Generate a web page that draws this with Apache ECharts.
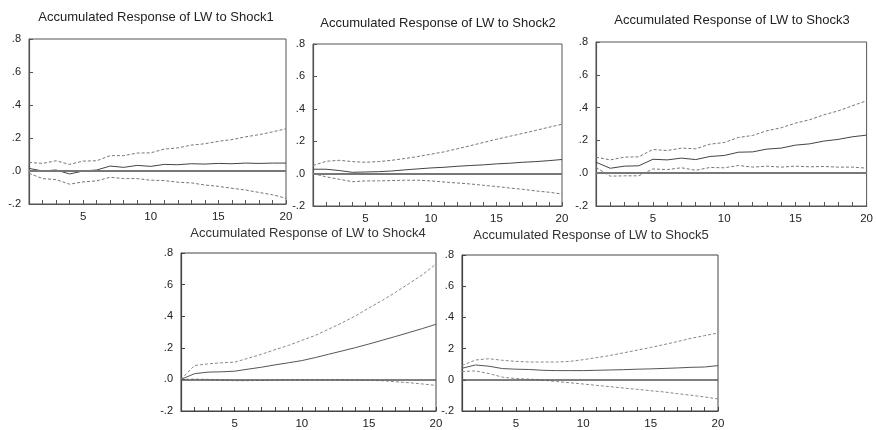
<!DOCTYPE html>
<html><head><meta charset="utf-8">
<script src="https://cdn.jsdelivr.net/npm/echarts@6/dist/echarts.min.js"></script>
<style>html,body{margin:0;padding:0;background:#fff}#c{width:876px;height:430px}</style>
</head><body><div id="c"></div>
<script>
const periods = ['1','2','3','4','5','6','7','8','9','10','11','12','13','14','15','16','17','18','19','20'];
const yTickValues = [-0.2, 0, 0.2, 0.4, 0.6, 0.8];
const yTickLabels = ['-.2', '.0', '.2', '.4', '.6', '.8'];
const yTickLabels5 = ['-.2', '0', '2', '.4', '.6', '.8'];
const titles = [
  'Accumulated Response of LW to Shock1',
  'Accumulated Response of LW to Shock2',
  'Accumulated Response of LW to Shock3',
  'Accumulated Response of LW to Shock4',
  'Accumulated Response of LW to Shock5'
];

const s1Resp  = [0.016, 0.0, 0.006, -0.018, 0.0, 0.006, 0.03, 0.022, 0.034, 0.028, 0.04, 0.038, 0.044, 0.042, 0.046, 0.044, 0.048, 0.046, 0.048, 0.048];
const s1Upper = [0.052, 0.046, 0.062, 0.04, 0.06, 0.062, 0.093, 0.093, 0.109, 0.11, 0.133, 0.14, 0.157, 0.165, 0.18, 0.19, 0.207, 0.22, 0.237, 0.256];
const s1Lower = [-0.014, -0.046, -0.052, -0.08, -0.066, -0.06, -0.038, -0.046, -0.046, -0.056, -0.058, -0.068, -0.072, -0.085, -0.093, -0.105, -0.115, -0.13, -0.144, -0.165];

const s2Resp  = [0.027, 0.027, 0.019, 0.008, 0.01, 0.012, 0.016, 0.023, 0.029, 0.035, 0.039, 0.045, 0.05, 0.054, 0.06, 0.064, 0.07, 0.074, 0.08, 0.087];
const s2Upper = [0.05, 0.076, 0.082, 0.074, 0.07, 0.074, 0.082, 0.093, 0.105, 0.12, 0.134, 0.153, 0.172, 0.192, 0.212, 0.23, 0.248, 0.267, 0.286, 0.305];
const s2Lower = [0.0, -0.02, -0.035, -0.05, -0.045, -0.045, -0.043, -0.041, -0.041, -0.045, -0.052, -0.058, -0.064, -0.072, -0.08, -0.089, -0.097, -0.107, -0.115, -0.126];

const s3Resp  = [0.067, 0.03, 0.043, 0.045, 0.085, 0.081, 0.092, 0.083, 0.102, 0.108, 0.128, 0.13, 0.147, 0.153, 0.171, 0.179, 0.196, 0.206, 0.222, 0.232];
const s3Upper = [0.098, 0.081, 0.098, 0.1, 0.145, 0.138, 0.153, 0.149, 0.177, 0.187, 0.218, 0.23, 0.259, 0.277, 0.305, 0.326, 0.356, 0.38, 0.411, 0.442];
const s3Lower = [0.035, -0.018, -0.016, -0.016, 0.026, 0.022, 0.033, 0.018, 0.035, 0.033, 0.047, 0.037, 0.043, 0.037, 0.043, 0.039, 0.041, 0.037, 0.037, 0.031];

const s4Resp  = [0.0, 0.036, 0.046, 0.048, 0.052, 0.065, 0.077, 0.092, 0.105, 0.119, 0.138, 0.159, 0.18, 0.201, 0.224, 0.248, 0.272, 0.297, 0.322, 0.349];
const s4Upper = [0.0, 0.088, 0.098, 0.105, 0.109, 0.134, 0.159, 0.188, 0.215, 0.247, 0.278, 0.318, 0.358, 0.402, 0.452, 0.5, 0.552, 0.607, 0.663, 0.73];
const s4Lower = [0.0, 0.002, 0.0, -0.004, -0.008, -0.008, -0.006, -0.004, -0.002, -0.002, -0.002, -0.002, -0.002, -0.004, -0.006, -0.008, -0.015, -0.021, -0.029, -0.038];

const s5Resp  = [0.074, 0.095, 0.087, 0.072, 0.068, 0.066, 0.061, 0.059, 0.059, 0.059, 0.061, 0.063, 0.065, 0.068, 0.07, 0.073, 0.076, 0.08, 0.082, 0.091];
const s5Upper = [0.091, 0.127, 0.135, 0.125, 0.118, 0.114, 0.114, 0.114, 0.118, 0.129, 0.142, 0.156, 0.173, 0.19, 0.207, 0.226, 0.245, 0.266, 0.283, 0.3];
const s5Lower = [0.053, 0.057, 0.04, 0.017, 0.008, 0.004, -0.002, -0.011, -0.019, -0.027, -0.036, -0.044, -0.053, -0.061, -0.07, -0.078, -0.089, -0.099, -0.11, -0.123];

const panels = [
  {resp: s1Resp, upper: s1Upper, lower: s1Lower, labels: yTickLabels},
  {resp: s2Resp, upper: s2Upper, lower: s2Lower, labels: yTickLabels},
  {resp: s3Resp, upper: s3Upper, lower: s3Lower, labels: yTickLabels},
  {resp: s4Resp, upper: s4Upper, lower: s4Lower, labels: yTickLabels},
  {resp: s5Resp, upper: s5Upper, lower: s5Lower, labels: yTickLabels5}
];

// layout
const gridBoxes = [
  {left: 29,  top: 39,  width: 257, height: 165},
  {left: 313, top: 44,  width: 249, height: 162},
  {left: 596, top: 42,  width: 272, height: 164},
  {left: 181, top: 253, width: 255, height: 160},
  {left: 462, top: 255, width: 256, height: 158}
];
const titlePos = [[156, 17], [438, 23], [732, 20], [308, 233], [591, 235]];
const FONT = '"Liberation Sans", Arial, sans-serif';

const chart = echarts.init(document.getElementById('c'), null, {renderer: 'canvas'});
const grid = [], xAxis = [], yAxis = [], series = [], graphic = [];

panels.forEach((p, i) => {
  const lower = i >= 3;
  const frame = lower ? '#444' : '#555';
  grid.push(Object.assign({show: true, borderColor: frame, borderWidth: 1, backgroundColor: '#fff'}, gridBoxes[i]));
  xAxis.push({
    type: 'category', gridIndex: i, data: periods, boundaryGap: false,
    axisLine: {show: true, onZero: false, lineStyle: {color: frame, width: 1.2}},
    axisTick: {show: true, inside: true, length: 4, interval: 0, lineStyle: {color: frame}},
    axisLabel: {
      interval: (idx, val) => Number(val) % 5 === 0,
      fontSize: 11.5, color: '#222', margin: 7, fontFamily: FONT
    },
    splitLine: {show: false}
  });
  yAxis.push({
    type: 'value', gridIndex: i, min: -0.2, max: 0.8, interval: 0.2,
    axisLine: {show: true, lineStyle: {color: frame, width: 1.2}},
    axisTick: {show: true, inside: true, length: 4, lineStyle: {color: frame}},
    axisLabel: {
      fontSize: 11, color: '#222', margin: 8, fontFamily: FONT,
      formatter: (v) => {
        let best = 0;
        yTickValues.forEach((t, k) => { if (Math.abs(t - v) < Math.abs(yTickValues[best] - v)) best = k; });
        return p.labels[best];
      }
    },
    splitLine: {show: false}
  });
  const solidColor = lower ? '#555' : '#444';
  const dashColor = lower ? '#8a8a8a' : '#777';
  series.push({
    type: 'line', xAxisIndex: i, yAxisIndex: i, data: p.resp, symbol: 'none',
    lineStyle: {color: solidColor, width: 1}, z: 3,
    markLine: {
      silent: true, symbol: ['none', 'none'], label: {show: false},
      lineStyle: {color: lower ? '#555' : '#777', width: lower ? 1.5 : 2, type: 'solid'},
      data: [{yAxis: 0}], animation: false
    }
  });
  series.push({
    type: 'line', xAxisIndex: i, yAxisIndex: i, data: p.upper, symbol: 'none',
    lineStyle: {color: dashColor, width: 1, type: [3, 2]}, z: 2
  });
  series.push({
    type: 'line', xAxisIndex: i, yAxisIndex: i, data: p.lower, symbol: 'none',
    lineStyle: {color: dashColor, width: 1, type: [3, 2]}, z: 2
  });
  graphic.push({
    type: 'text', x: titlePos[i][0], y: titlePos[i][1], z: 10,
    style: {text: titles[i], fill: lower ? '#333' : '#222', font: '13px ' + FONT, textAlign: 'center', textVerticalAlign: 'middle'}
  });
});

chart.setOption({
  animation: false,
  backgroundColor: '#fff',
  grid, xAxis, yAxis, series, graphic
});
</script>
</body></html>
